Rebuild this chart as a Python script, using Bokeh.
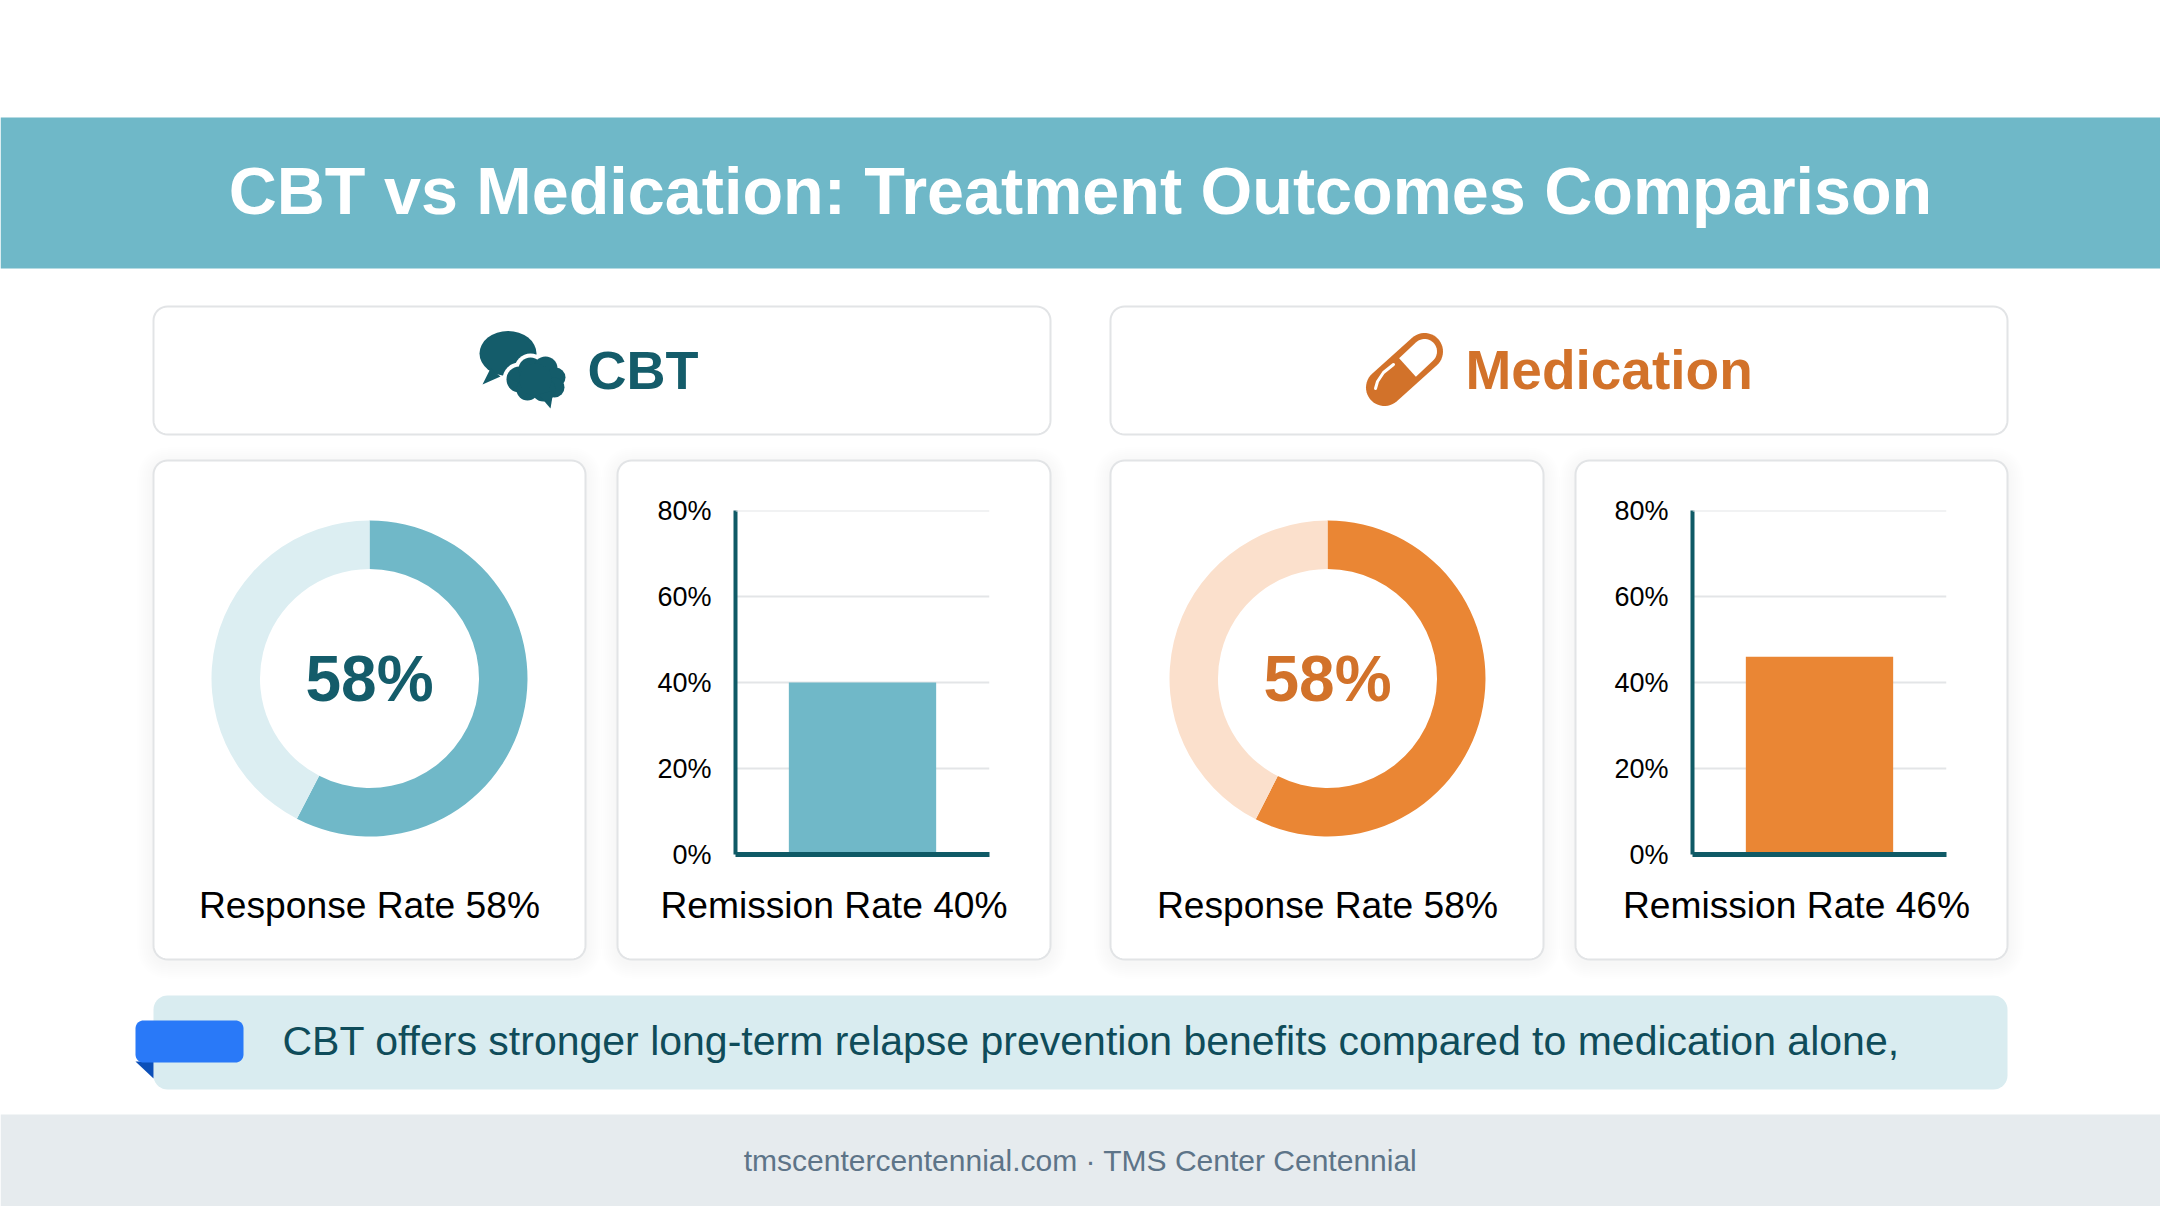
import numpy as np
from bokeh.core.properties import value as V
from bokeh.layouts import column
from bokeh.plotting import figure
from bokeh.models import Range1d, GridBox, PrintfTickFormatter, FixedTicker, Span
from bokeh.embed import file_html
from bokeh.resources import INLINE

# ---- content ----
TITLE = "CBT vs Medication: Treatment Outcomes Comparison"
GROUPS = ["CBT", "Medication"]
RESPONSE_RATES = [58, 58]          # as labelled
RESPONSE_ARC_SHARES = [57.6, 57.5]  # share of the ring as drawn in the picture
REMISSION_RATES = [40, 46]
Y_TICKS = [0, 20, 40, 60, 80]
RESPONSE_NAME = "Response Rate"
REMISSION_NAME = "Remission Rate"
CALLOUT = "CBT offers stronger long-term relapse prevention benefits compared to medication alone,"
FOOTER = "tmscentercentennial.com \u00b7 TMS Center Centennial"

# ---- style ----
FONT = "Liberation Sans"
TEAL, TEAL_LIGHT, TEAL_TEXT = "#70B8C8", "#DCEEF2", "#145C6A"
ORANGE, ORANGE_LIGHT, ORANGE_TEXT = "#EA8634", "#FBE0CC", "#D2722A"
AXIS = "#0F5A66"
GRID = "#E3E5E7"
W, H = 2160, 1206
OX, OY = 0, 0


def rrect(x0, y0, x1, y1, r, n=10):
    t = np.linspace(0, np.pi / 2, n)
    xs = np.concatenate([x1 - r + r * np.sin(t), x1 - r + r * np.cos(t), x0 + r - r * np.sin(t), x0 + r - r * np.cos(t)])
    ys = np.concatenate([y0 + r - r * np.cos(t), y1 - r + r * np.sin(t), y1 - r + r * np.cos(t), y0 + r - r * np.sin(t)])
    return xs.tolist(), ys.tolist()


base = figure(width=W, height=H, x_range=Range1d(OX, OX + W), y_range=Range1d(OY + H, OY),
              x_axis_type=None, y_axis_type=None,
              output_backend="svg", toolbar_location=None, min_border=0, outline_line_color=None,
              background_fill_color="white", border_fill_color="white")
base.grid.visible = False


def text(x, y, s, size, color, bold=False, align="center"):
    base.text(x=[x], y=[y], text=[s], text_font=V(FONT), text_font_size=f"{size}px", text_color=color,
              text_font_style="bold" if bold else "normal", text_align=align, text_baseline="middle")


def card(x0, y0, x1, y1, shadow=True):
    if shadow:
        for g in range(16, 0, -2):
            xs, ys = rrect(x0 - g, y0 - g + 3, x1 + g, y1 + g + 3, 14 + g)
            base.patch(xs, ys, fill_color="#60686E", fill_alpha=0.009, line_color=None)
    xs, ys = rrect(x0, y0, x1, y1, 14)
    base.patch(xs, ys, fill_color="white", line_color="#E2E4E6", line_width=2)


# banner, footer
base.quad(left=[0], right=[2160], top=[117], bottom=[268], fill_color="#6FB8C8", line_color=None)
base.quad(left=[0], right=[2160], top=[1114], bottom=[1206], fill_color="#E6EBEE", line_color=None)
text(1080, 190, TITLE, 66.5, "white", bold=True)
text(1080, 1160, FOOTER, 30, "#5D7488")

# cards
for g, (hx0, hx1) in enumerate([(153, 1050), (1110, 2007)]):
    card(hx0, 306, hx1, 434, shadow=False)
for x0, x1 in [(153, 585), (617, 1050), (1110, 1543), (1575, 2007)]:
    card(x0, 460, x1, 959)

# headers
text(587, 369, GROUPS[0], 54, TEAL_TEXT, bold=True, align="left")
text(1465, 369, GROUPS[1], 55, ORANGE_TEXT, bold=True, align="left")

# brain and speech-bubble icon
base.ellipse(x=[507.5], y=[353], width=[57], height=[45], fill_color=TEAL_TEXT, line_color=None)
base.patch([490, 500, 482], [368, 376, 384], fill_color=TEAL_TEXT, line_color=None)
lobes = [(519, 379, 13), (530, 369, 12), (545, 368, 12), (555, 377, 10), (554, 387, 10),
         (543, 389, 12), (527, 389, 11), (535, 379, 16)]
lx, ly, lr = zip(*lobes)
base.circle(x=list(lx), y=list(ly), radius=[r + 4 for r in lr], fill_color="white", line_color=None)
base.circle(x=list(lx), y=list(ly), radius=list(lr), fill_color=TEAL_TEXT, line_color=None)
base.patch([538, 553, 550], [394, 390, 408], fill_color=TEAL_TEXT, line_color=None)

# pill icon
a, b = np.array([1384.0, 387.0]), np.array([1424.0, 351.0])
u = (b - a) / np.linalg.norm(b - a)
ang = np.arctan2(u[1], u[0])


def capsule(p0, p1, r, flat_start=False):
    t1 = np.linspace(ang - np.pi / 2, ang + np.pi / 2, 24)
    t0 = np.linspace(ang + np.pi / 2, ang + 3 * np.pi / 2, 24)
    if flat_start:
        t0 = t0[[0, -1]]
    xs = np.concatenate([p1[0] + r * np.cos(t1), p0[0] + r * np.cos(t0)])
    ys = np.concatenate([p1[1] + r * np.sin(t1), p0[1] + r * np.sin(t0)])
    return xs.tolist(), ys.tolist()


xs, ys = capsule(a, b, 18.5)
base.patch(xs, ys, fill_color=ORANGE_TEXT, line_color=None)
xs, ys = capsule(np.array([1407.0, 367.0]), b, 12.5, flat_start=True)
base.patch(xs, ys, fill_color="white", line_color=None)
base.line([1393, 1383, 1377, 1375], [364, 372, 381, 388], line_color="white", line_width=3, line_cap="round")

# card captions
for cx, name, v in [(369, RESPONSE_NAME, RESPONSE_RATES[0]), (833.5, REMISSION_NAME, REMISSION_RATES[0]),
                    (1327, RESPONSE_NAME, RESPONSE_RATES[1]), (1796, REMISSION_NAME, REMISSION_RATES[1])]:
    text(cx, 904, f"{name} {v}%", 37.2, "black")

# callout
xs, ys = rrect(153, 995, 2007, 1089, 14)
base.patch(xs, ys, fill_color="#D9ECF0", line_color=None)
base.patch([135, 153, 153], [1061, 1061, 1078], fill_color="#0B4FB8", line_color=None)
xs, ys = rrect(135, 1020, 243, 1062, 8)
base.patch(xs, ys, fill_color="#2979F8", line_color=None)
text(282, 1040, CALLOUT, 41, "#0F4C5A", align="left")


def place(fig, left, top):
    return column(fig, margin=(int(top - OY), 0, 0, int(left - OX)))


def donut(cx, cy, label_value, share, main, light, txt):
    size = 340
    d = figure(width=size, height=size, x_range=Range1d(-size / 2, size / 2), y_range=Range1d(-size / 2, size / 2),
               x_axis_type=None, y_axis_type=None,
               output_backend="svg", toolbar_location=None, min_border=0, outline_line_color=None,
               background_fill_color=None, border_fill_color=None)
    d.grid.visible = False
    parts = [share, 100 - share]
    edges = np.cumsum([0] + parts) / 100 * 2 * np.pi
    start = np.pi / 2 - edges[1:]
    end = np.pi / 2 - edges[:-1]
    d.annular_wedge(x=0, y=0, inner_radius=109.5, outer_radius=158, start_angle=start.tolist(), end_angle=end.tolist(),
                    fill_color=[main, light], line_color=None)
    d.text(x=[0], y=[0], text=[f"{label_value}%"], text_font=V(FONT), text_font_style="bold", text_font_size="64px",
           text_color=txt, text_align="center", text_baseline="middle")
    return place(d, cx - size / 2, cy - size / 2)


def bars(left, value, color):
    lb, rb, tb, bb = 110, 12, 20, 30
    fw, fh = 254, 344
    b = figure(width=fw + lb + rb, height=fh + tb + bb, x_range=Range1d(-0.5, 0.5),
               y_range=Range1d(Y_TICKS[0], Y_TICKS[-1]), output_backend="svg", toolbar_location=None,
               min_border_left=lb, min_border_right=rb, min_border_top=tb, min_border_bottom=bb,
               outline_line_color=None, background_fill_color=None, border_fill_color=None)
    b.add_layout(Span(location=Y_TICKS[-1], dimension="width", line_color=GRID, line_width=2))
    b.vbar(x=[0], top=[value], width=0.58, fill_color=color, line_color=None)
    b.yaxis.ticker = FixedTicker(ticks=Y_TICKS)
    b.yaxis.formatter = PrintfTickFormatter(format="%d%%")
    b.yaxis.major_label_text_font = FONT
    b.yaxis.major_label_text_font_size = "27px"
    b.yaxis.major_label_text_color = "black"
    b.yaxis.major_label_standoff = 18
    b.yaxis.major_tick_line_color = None
    b.yaxis.minor_tick_line_color = None
    b.yaxis.axis_line_color = AXIS
    b.yaxis.axis_line_width = 4
    b.xaxis.ticker = FixedTicker(ticks=[])
    b.xaxis.axis_line_color = AXIS
    b.xaxis.axis_line_width = 5
    b.xaxis.major_tick_line_color = None
    b.xaxis.minor_tick_line_color = None
    b.xgrid.visible = False
    b.ygrid.grid_line_color = GRID
    b.ygrid.grid_line_width = 2
    return place(b, left - lb, 510 - tb)


children = [(column(base), 0, 0),
            (donut(369, 678, RESPONSE_RATES[0], RESPONSE_ARC_SHARES[0], TEAL, TEAL_LIGHT, TEAL_TEXT), 0, 0),
            (bars(735, REMISSION_RATES[0], TEAL), 0, 0),
            (donut(1327, 678, RESPONSE_RATES[1], RESPONSE_ARC_SHARES[1], ORANGE, ORANGE_LIGHT, ORANGE_TEXT), 0, 0),
            (bars(1692, REMISSION_RATES[1], ORANGE), 0, 0)]

grid = GridBox(children=children)
open("out.html", "w").write(file_html(grid, INLINE))
